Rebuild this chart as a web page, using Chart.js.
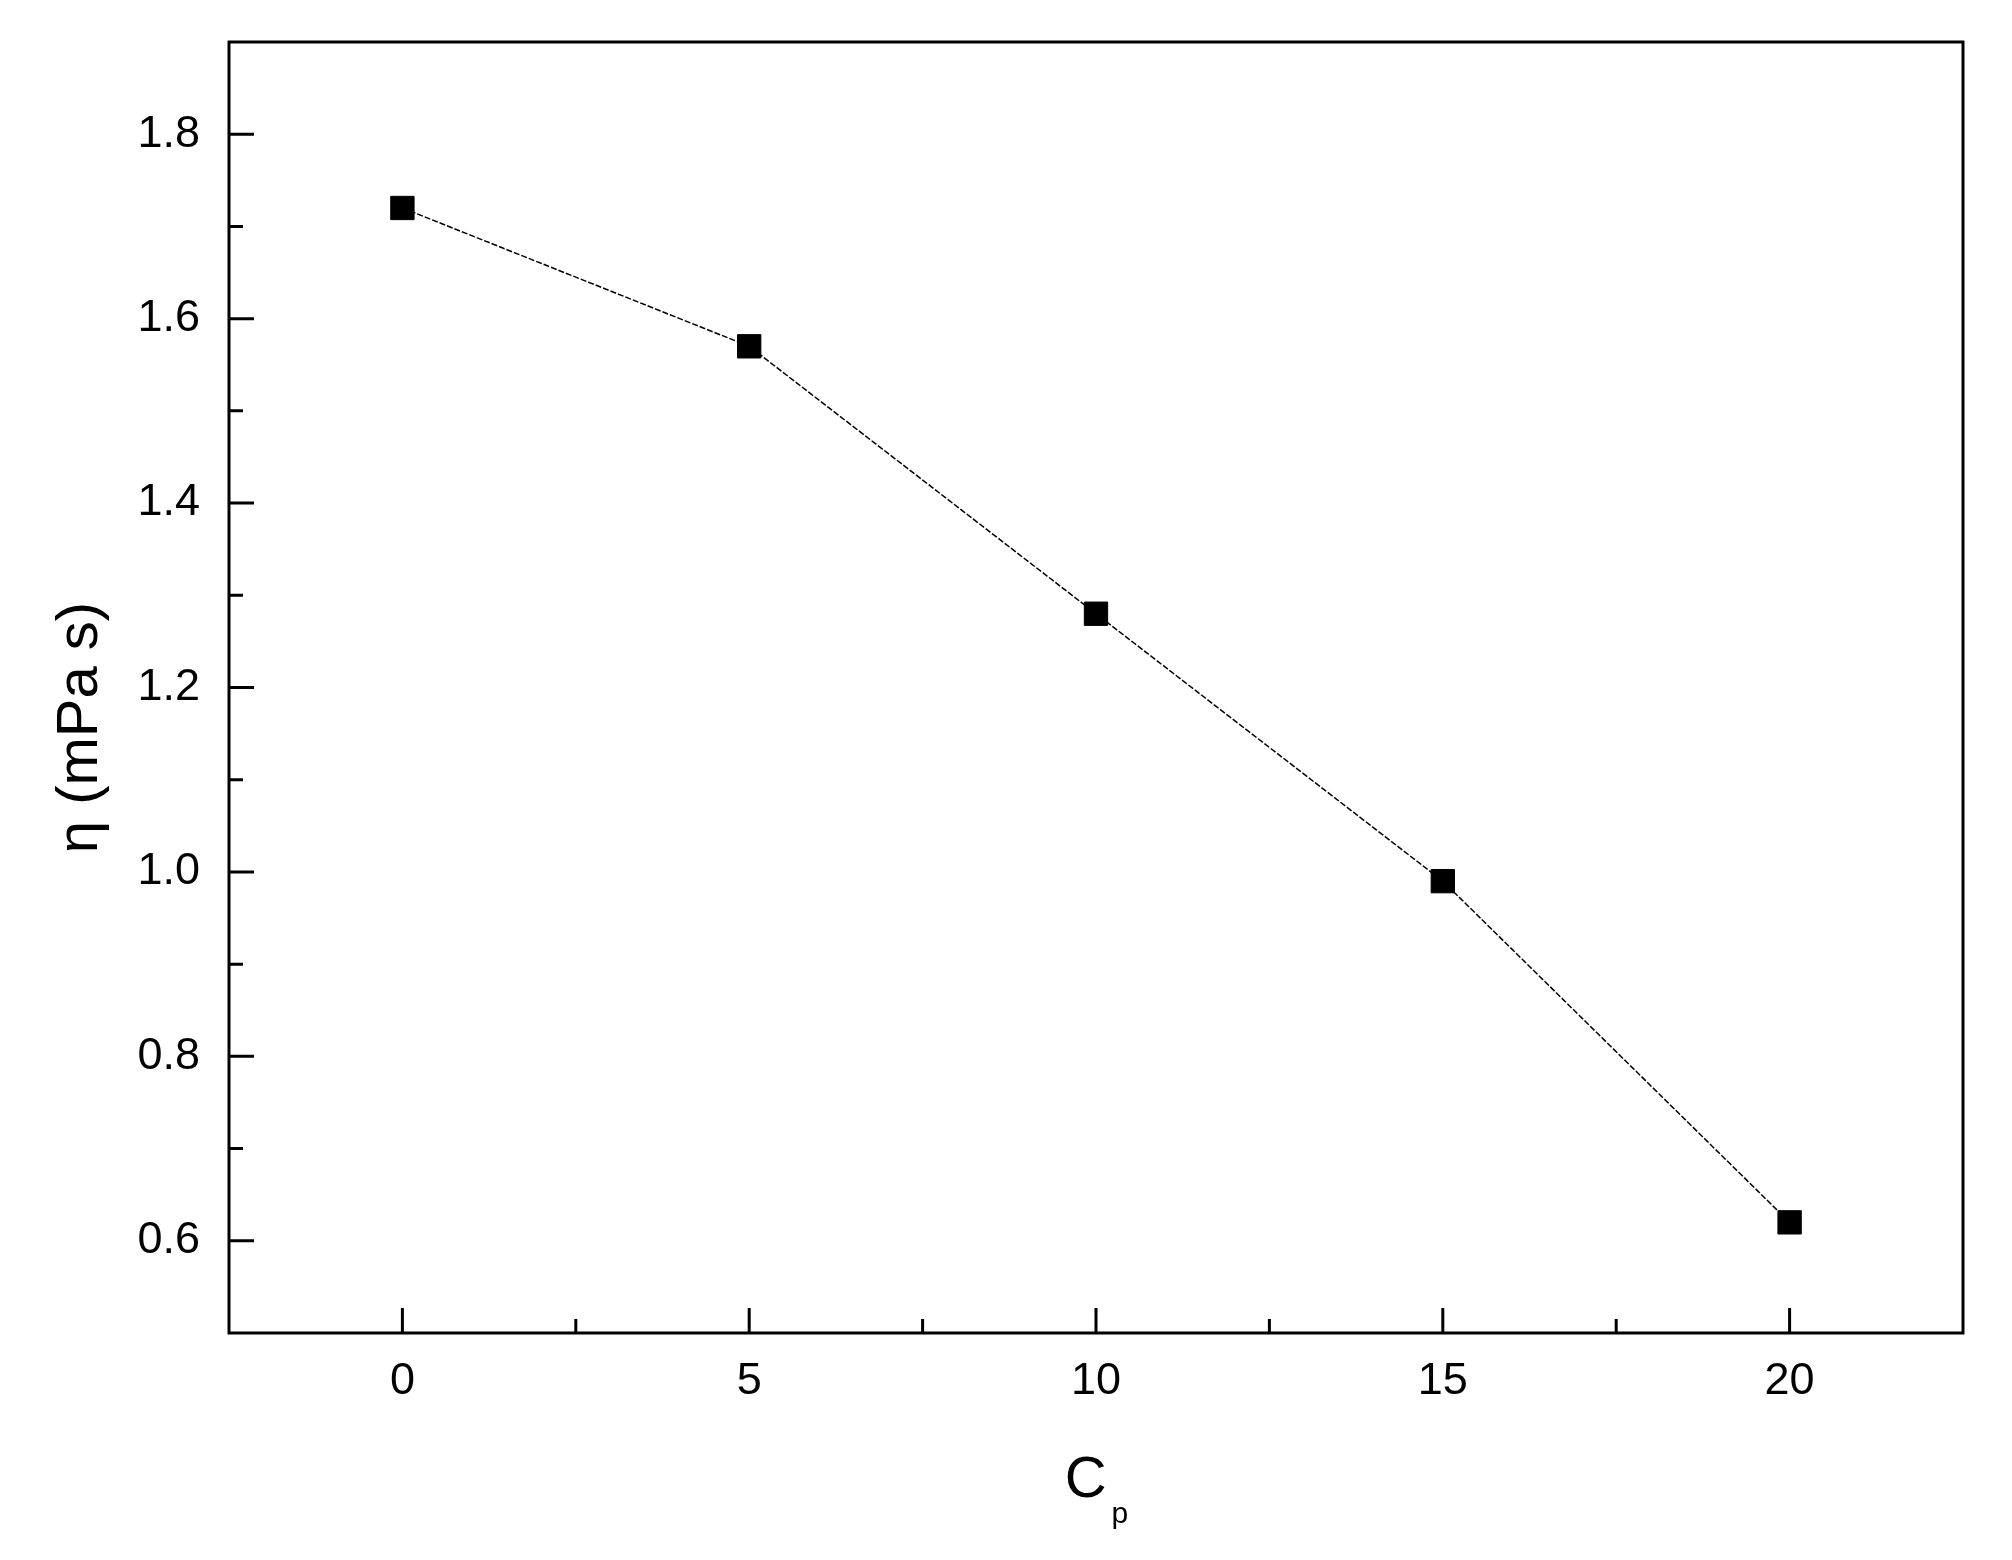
<!DOCTYPE html>
<html>
<head>
<meta charset="utf-8">
<script src="https://cdn.jsdelivr.net/npm/chart.js@4/dist/chart.umd.min.js"></script>
<style>
  body { margin: 0; background: #fff; }
  #wrap { width: 2012px; height: 1560px; position: relative; }
</style>
</head>
<body>
<div id="wrap"><canvas id="chart"></canvas></div>
<script>
// data
const cpValues = [0, 5, 10, 15, 20];
const viscosity = [1.72, 1.57, 1.28, 0.99, 0.62];
const xTicks = [0, 5, 10, 15, 20];
const yTicks = [0.6, 0.8, 1.0, 1.2, 1.4, 1.6, 1.8];
const xTitle = 'C';
const xTitleSub = 'p';
const yTitle = 'η (mPa s)';

const fontFamily = '"Liberation Sans", Arial, sans-serif';

// frame, inside ticks and axis titles
const framePlugin = {
    id: 'frame',
    afterDraw(chart) {
        const ctx = chart.ctx;
        const a = chart.chartArea;
        const xs = chart.scales.x;
        const ys = chart.scales.y;
        ctx.save();
        ctx.strokeStyle = '#000';
        ctx.lineWidth = 3;
        ctx.strokeRect(a.left, a.top, a.right - a.left, a.bottom - a.top);

        // major + minor ticks on left and bottom
        ctx.beginPath();
        xTicks.forEach(v => {
            const px = xs.getPixelForValue(v);
            ctx.moveTo(px, a.bottom); ctx.lineTo(px, a.bottom - 25);
        });
        yTicks.forEach(v => {
            const py = ys.getPixelForValue(v);
            ctx.moveTo(a.left, py); ctx.lineTo(a.left + 25, py);
        });
        ctx.stroke();

        ctx.beginPath();
        const xStep = xTicks[1] - xTicks[0];
        for (let v = xTicks[0] - xStep / 2; v <= xTicks[xTicks.length - 1] + xStep / 2; v += xStep) {
            if (v <= xs.min || v >= xs.max) continue;
            const px = xs.getPixelForValue(v);
            ctx.moveTo(px, a.bottom); ctx.lineTo(px, a.bottom - 14);
        }
        const yStep = yTicks[1] - yTicks[0];
        for (let v = yTicks[0] - yStep / 2; v <= yTicks[yTicks.length - 1] + yStep / 2 + 1e-9; v += yStep) {
            if (v <= ys.min + 1e-9 || v >= ys.max - 1e-9) continue;
            const py = ys.getPixelForValue(v);
            ctx.moveTo(a.left, py); ctx.lineTo(a.left + 14, py);
        }
        ctx.stroke();

        // x title with subscript
        ctx.fillStyle = '#000';
        ctx.textBaseline = 'alphabetic';
        ctx.font = '58px ' + fontFamily;
        const cw = ctx.measureText(xTitle).width;
        ctx.font = '30px ' + fontFamily;
        const pw = ctx.measureText(xTitleSub).width;
        const cx = (a.left + a.right) / 2 - (cw + pw + 4) / 2;
        ctx.font = '58px ' + fontFamily;
        ctx.textAlign = 'left';
        ctx.fillText(xTitle, cx, a.bottom + 164);
        ctx.font = '30px ' + fontFamily;
        ctx.fillText(xTitleSub, cx + cw + 5, a.bottom + 190);

        // y title
        ctx.translate(a.left - 148, (a.top + a.bottom) / 2 + 40);
        ctx.rotate(-Math.PI / 2);
        ctx.font = '58px ' + fontFamily;
        ctx.textAlign = 'center';
        ctx.textBaseline = 'middle';
        ctx.fillText(yTitle, 0, 0);
        ctx.restore();
    }
};

const ctx = document.getElementById('chart').getContext('2d');
new Chart(ctx, {
    type: 'line',
    data: {
        datasets: [{
            data: cpValues.map((x, i) => ({ x: x, y: viscosity[i] })),
            borderColor: '#000',
            borderWidth: 1.5,
            borderDash: [6, 2],
            backgroundColor: '#000',
            pointStyle: 'rect',
            pointRadius: 16.5,
            pointBorderWidth: 1,
            pointBorderColor: '#000',
            tension: 0
        }]
    },
    options: {
        responsive: true,
        maintainAspectRatio: false,
        animation: false,
        events: [],
        layout: { padding: { top: 42, right: 49, left: 0, bottom: 0 } },
        plugins: {
            legend: { display: false },
            tooltip: { enabled: false }
        },
        scales: {
            x: {
                type: 'linear',
                min: -2.5,
                max: 22.5,
                afterBuildTicks: s => { s.ticks = xTicks.map(v => ({ value: v })); },
                afterFit: s => { s.height = 227; s.paddingLeft = 0; s.paddingRight = 0; },
                grid: { display: false, drawTicks: false },
                border: { display: false },
                ticks: {
                    color: '#000',
                    font: { family: fontFamily, size: 45 },
                    padding: 22,
                    maxRotation: 0,
                    callback: v => String(v)
                }
            },
            y: {
                type: 'linear',
                min: 0.5,
                max: 1.9,
                afterBuildTicks: s => { s.ticks = yTicks.map(v => ({ value: v })); },
                afterFit: s => { s.width = 229; s.paddingTop = 0; s.paddingBottom = 0; },
                grid: { display: false, drawTicks: false },
                border: { display: false },
                ticks: {
                    color: '#000',
                    font: { family: fontFamily, size: 45 },
                    padding: 29,
                    callback: v => Number(v).toFixed(1)
                }
            }
        }
    },
    plugins: [framePlugin]
});
</script>
</body>
</html>
